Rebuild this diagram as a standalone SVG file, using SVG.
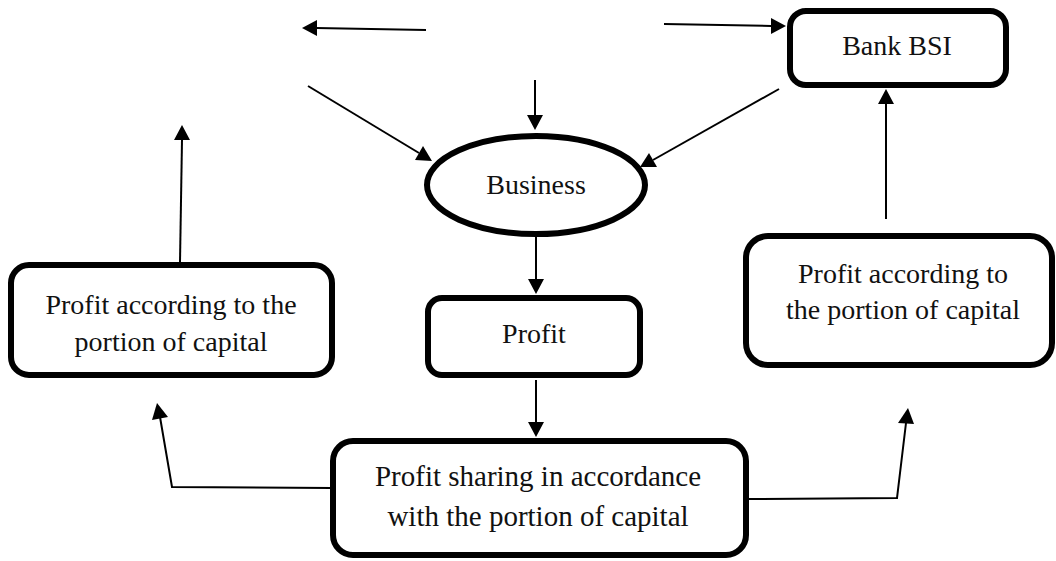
<svg xmlns="http://www.w3.org/2000/svg" width="1056" height="561" viewBox="0 0 1056 561">
<defs>
<style>
.box{fill:#fff;stroke:#000;stroke-width:6}
.t{font-family:"Liberation Serif",serif;font-size:28px;fill:#111;text-anchor:middle}
.c{fill:none;stroke:#000;stroke-width:2}
</style>
</defs>
<rect width="1056" height="561" fill="#fff"/>
<g id="connectors">
<line class="c" x1="426" y1="30" x2="316" y2="28"/>
<path d="M302,28 L317,20 L317,36 Z"/>
<line class="c" x1="664" y1="24" x2="771" y2="26"/>
<path d="M786,26 L771,18 L771,34 Z"/>
<line class="c" x1="535" y1="80" x2="535" y2="115"/>
<path d="M535,130 L527,115 L543,115 Z"/>
<line class="c" x1="308" y1="86" x2="419" y2="153"/>
<path d="M432,161 L415,160 L423,146 Z"/>
<line class="c" x1="779" y1="89" x2="653" y2="160"/>
<path d="M640,167 L649,153 L657,167 Z"/>
<line class="c" x1="536" y1="237" x2="536" y2="279"/>
<path d="M536,294 L528,279 L544,279 Z"/>
<line class="c" x1="536" y1="380" x2="536" y2="422"/>
<path d="M536,437 L528,422 L544,422 Z"/>
<polyline class="c" points="332,488 172,487 160,417"/>
<path d="M157,403 L152,420 L168,417 Z"/>
<polyline class="c" points="748,499 897,498 906,423"/>
<path d="M908,408 L898,423 L914,424 Z"/>
<line class="c" x1="180" y1="262" x2="182" y2="140"/>
<path d="M182,125 L174,140 L190,140 Z"/>
<line class="c" x1="886" y1="219" x2="886" y2="104"/>
<path d="M886,89 L878,104 L894,104 Z"/>
</g>
<g id="bank-bsi">
<rect class="box" x="790" y="11" width="216" height="74" rx="16"/>
<text class="t" x="897" y="55">Bank BSI</text>
</g>
<g id="business">
<ellipse class="box" cx="536" cy="185" rx="109" ry="49"/>
<text class="t" x="536" y="194">Business</text>
</g>
<g id="profit">
<rect class="box" x="428" y="298" width="212" height="77" rx="14"/>
<text class="t" x="534" y="343">Profit</text>
</g>
<g id="profit-left">
<rect class="box" x="11" y="265" width="321" height="110" rx="18"/>
<text class="t" x="171" y="314">Profit according to the</text>
<text class="t" x="171" y="351">portion of capital</text>
</g>
<g id="profit-right">
<rect class="box" x="746" y="236" width="306" height="129" rx="22"/>
<text class="t" x="903" y="283">Profit according to</text>
<text class="t" x="903" y="319">the portion of capital</text>
</g>
<g id="profit-sharing">
<rect class="box" x="333" y="441" width="413" height="114" rx="20"/>
<text class="t" x="538" y="486" style="font-size:29px">Profit sharing in accordance</text>
<text class="t" x="538" y="526" style="font-size:29px">with the portion of capital</text>
</g>
</svg>
